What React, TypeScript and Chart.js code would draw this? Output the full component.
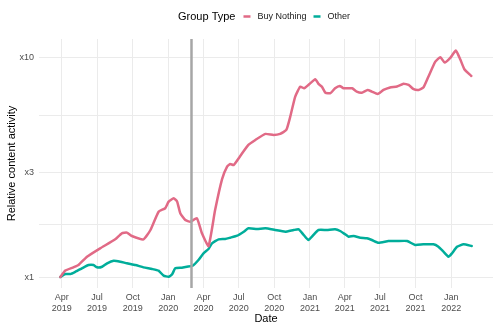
import React, { useEffect, useRef } from "react";
import { Chart, registerables } from "chart.js";

Chart.register(...registerables);

const legendTitle = "Group Type";
const seriesNames = ["Buy Nothing", "Other"];
const seriesColors = ["#E16A86", "#00AD9A"];

const buyNothingDates = [
  "2019-03-28", "2019-04-10", "2019-05-01", "2019-05-14", "2019-06-05", "2019-07-09",
  "2019-08-17", "2019-09-03", "2019-09-16", "2019-09-29", "2019-10-29", "2019-11-16",
  "2019-12-07", "2019-12-24", "2020-01-02", "2020-01-15", "2020-01-24", "2020-02-01",
  "2020-02-14", "2020-02-27", "2020-03-15", "2020-03-28", "2020-04-14", "2020-05-01",
  "2020-05-19", "2020-06-01", "2020-06-09", "2020-06-18", "2020-07-05", "2020-07-26",
  "2020-08-13", "2020-09-08", "2020-09-29", "2020-10-16", "2020-11-01", "2020-11-11",
  "2020-11-24", "2020-12-07", "2020-12-17", "2020-12-28", "2021-01-15", "2021-01-23",
  "2021-02-01", "2021-02-10", "2021-02-23", "2021-03-07", "2021-03-19", "2021-03-29",
  "2021-04-20", "2021-05-02", "2021-05-15", "2021-05-30", "2021-06-10", "2021-06-25",
  "2021-07-10", "2021-07-27", "2021-08-14", "2021-08-31", "2021-09-13", "2021-09-26",
  "2021-10-09", "2021-10-21", "2021-11-03", "2021-11-21", "2021-12-04", "2021-12-15",
  "2021-12-29", "2022-01-13", "2022-01-24", "2022-02-04", "2022-02-22",
];
const buyNothingValues = [
  1.0, 1.07, 1.107, 1.134, 1.238, 1.352,
  1.486, 1.583, 1.594, 1.539, 1.486, 1.639,
  1.987, 2.06, 2.208, 2.288, 2.208, 1.954,
  1.82, 1.789, 1.854, 1.583, 1.385, 2.02,
  2.8, 3.19, 3.28, 3.246, 3.568, 4.007,
  4.224, 4.5, 4.45, 4.5, 4.69, 5.38,
  6.66, 7.39, 7.27, 7.53, 7.99, 7.61,
  7.39, 6.94, 6.9, 7.27, 7.45, 7.27,
  7.27, 7.02, 6.94, 7.14, 7.02, 6.85,
  7.14, 7.33, 7.41, 7.63, 7.53, 7.2,
  7.14, 7.32, 8.21, 9.62, 10.07, 9.52,
  9.97, 10.8, 9.89, 8.88, 8.27,
];

const otherDates = [
  "2019-03-28", "2019-04-10", "2019-04-23", "2019-05-06", "2019-05-23", "2019-06-09",
  "2019-06-22", "2019-07-01", "2019-07-14", "2019-07-27", "2019-08-13", "2019-08-30",
  "2019-09-16", "2019-10-08", "2019-10-29", "2019-11-20", "2019-12-07", "2019-12-20",
  "2020-01-02", "2020-01-11", "2020-01-19", "2020-02-05", "2020-02-18", "2020-03-04",
  "2020-03-19", "2020-04-01", "2020-04-14", "2020-04-23", "2020-05-10", "2020-05-27",
  "2020-06-09", "2020-06-27", "2020-07-14", "2020-07-26", "2020-08-17", "2020-09-08",
  "2020-10-03", "2020-10-29", "2020-11-20", "2020-12-03", "2020-12-16", "2020-12-28",
  "2021-01-10", "2021-01-23", "2021-02-14", "2021-03-07", "2021-03-20", "2021-04-02",
  "2021-04-11", "2021-04-24", "2021-05-11", "2021-05-28", "2021-06-10", "2021-06-27",
  "2021-07-23", "2021-08-14", "2021-09-09", "2021-09-30", "2021-10-21", "2021-11-16",
  "2021-11-29", "2021-12-12", "2021-12-25", "2022-01-03", "2022-01-16", "2022-02-02",
  "2022-02-23",
];
const otherValues = [
  1.0, 1.032, 1.032, 1.057, 1.096, 1.134,
  1.134, 1.107, 1.114, 1.155, 1.187, 1.175,
  1.155, 1.134, 1.107, 1.088, 1.069, 1.014,
  1.003, 1.029, 1.096, 1.103, 1.114, 1.126,
  1.196, 1.283, 1.342, 1.425, 1.486, 1.491,
  1.512, 1.544, 1.61, 1.669, 1.657, 1.669,
  1.639, 1.61, 1.639, 1.651, 1.555, 1.476,
  1.555, 1.639, 1.639, 1.651, 1.622, 1.567,
  1.528, 1.539, 1.512, 1.502, 1.476, 1.434,
  1.46, 1.46, 1.46, 1.4, 1.41, 1.41,
  1.375, 1.305, 1.238, 1.283, 1.375, 1.41,
  1.385,
];

const xTickDates = [
  "2019-04-01", "2019-07-01", "2019-10-01", "2020-01-01", "2020-04-01", "2020-07-01",
  "2020-10-01", "2021-01-01", "2021-04-01", "2021-07-01", "2021-10-01", "2022-01-01",
];
const xTickLabels = [
  ["Apr", "2019"], ["Jul", "2019"], ["Oct", "2019"], ["Jan", "2020"],
  ["Apr", "2020"], ["Jul", "2020"], ["Oct", "2020"], ["Jan", "2021"],
  ["Apr", "2021"], ["Jul", "2021"], ["Oct", "2021"], ["Jan", "2022"],
];
const yTickValues = [1, 3, 10];
const yTickLabels = ["x1", "x3", "x10"];
const yMinorValues = [Math.sqrt(3), Math.sqrt(30)];
const eventDate = "2020-03-01";
const xAxisTitle = "Date";
const yAxisTitle = "Relative content activity";

const xRangeDates = ["2019-02-01", "2022-04-19"];
const yRange = [0.891, 12.2];

const BASE = Date.UTC(2019, 0, 1);
const toDay = (s: string) => {
  const [y, m, d] = s.split("-").map(Number);
  return (Date.UTC(y, m - 1, d) - BASE) / 86400000;
};

const FONT = "'Liberation Sans', Arial, sans-serif";

export default function App() {
  const ref = useRef<HTMLCanvasElement | null>(null);
  useEffect(() => {
    document.body.style.margin = "0";
    const canvas = ref.current;
    if (!canvas) return;

    const legendPlugin = {
      id: "ggLegend",
      afterDraw(chart: any) {
        const ctx = chart.ctx;
        ctx.save();
        ctx.textBaseline = "middle";
        ctx.textAlign = "left";
        const y = 16.5;
        let x = 178;
        ctx.font = `11px ${FONT}`;
        ctx.fillStyle = "#000000";
        ctx.fillText(legendTitle, x, y);
        x += ctx.measureText(legendTitle).width + 8;
        ctx.font = `9px ${FONT}`;
        seriesNames.forEach((name, i) => {
          ctx.strokeStyle = seriesColors[i];
          ctx.lineWidth = 2.5;
          ctx.beginPath();
          ctx.moveTo(x, y);
          ctx.lineTo(x + 7, y);
          ctx.stroke();
          x += 14;
          ctx.fillStyle = "#1A1A1A";
          ctx.fillText(name, x, y);
          x += ctx.measureText(name).width + 7;
        });
        ctx.restore();
      },
    };

    const vlinePlugin = {
      id: "eventLine",
      afterDatasetsDraw(chart: any) {
        const { ctx, chartArea, scales } = chart;
        const px = scales.x.getPixelForValue(toDay(eventDate));
        ctx.save();
        ctx.strokeStyle = "#A6A6A6";
        ctx.lineWidth = 2.5;
        ctx.beginPath();
        ctx.moveTo(px, chartArea.top);
        ctx.lineTo(px, chartArea.bottom);
        ctx.stroke();
        ctx.restore();
      },
    };

    const chart = new Chart(canvas, {
      type: "line",
      data: {
        datasets: [
          {
            label: seriesNames[0],
            data: buyNothingDates.map((d, i) => ({ x: toDay(d), y: buyNothingValues[i] })),
            borderColor: seriesColors[0],
            borderWidth: 2.5,
            pointRadius: 0,
            tension: 0.15,
            borderJoinStyle: "round",
            borderCapStyle: "round",
          },
          {
            label: seriesNames[1],
            data: otherDates.map((d, i) => ({ x: toDay(d), y: otherValues[i] })),
            borderColor: seriesColors[1],
            borderWidth: 2.5,
            pointRadius: 0,
            tension: 0.15,
            borderJoinStyle: "round",
            borderCapStyle: "round",
          },
        ],
      },
      options: {
        animation: false,
        responsive: false,
        devicePixelRatio: 1,
        layout: { padding: { top: 39, right: 5, left: 0, bottom: 0 } },
        plugins: {
          legend: { display: false },
          tooltip: { enabled: false },
        },
        scales: {
          x: {
            type: "linear",
            min: toDay(xRangeDates[0]),
            max: toDay(xRangeDates[1]),
            afterBuildTicks: (s: any) => {
              s.ticks = xTickDates.map((d) => ({ value: toDay(d) }));
            },
            afterFit: (s: any) => {
              s.height = 44;
            },
            ticks: {
              autoSkip: false,
              maxRotation: 0,
              padding: 4,
              color: "#4D4D4D",
              font: { family: FONT, size: 9, lineHeight: 1.2 },
              callback: (_v: any, i: number) => xTickLabels[i],
            },
            grid: { color: "#EBEBEB", lineWidth: 1, drawTicks: false },
            border: { display: false },
            title: {
              display: true,
              text: xAxisTitle,
              color: "#000000",
              font: { family: FONT, size: 11, lineHeight: 1.2 },
              padding: { top: 0, bottom: 6 },
            },
          },
          y: {
            type: "logarithmic",
            min: yRange[0],
            max: yRange[1],
            afterBuildTicks: (s: any) => {
              const all = [...yTickValues, ...yMinorValues].sort((a, b) => a - b);
              s.ticks = all.map((v) => ({ value: v }));
            },
            afterFit: (s: any) => {
              s.width = 39;
            },
            ticks: {
              autoSkip: false,
              padding: 5,
              color: "#4D4D4D",
              font: { family: FONT, size: 9 },
              callback: (v: any) => {
                const idx = yTickValues.findIndex((t) => Math.abs(t - Number(v)) < 1e-6);
                return idx >= 0 ? yTickLabels[idx] : "";
              },
            },
            grid: { color: "#EBEBEB", lineWidth: 1, drawTicks: false },
            border: { display: false },
            title: {
              display: true,
              text: yAxisTitle,
              color: "#000000",
              font: { family: FONT, size: 11, lineHeight: 1.2 },
              padding: { top: 5, bottom: 0 },
            },
          },
        },
      },
      plugins: [vlinePlugin, legendPlugin],
    } as any);

    return () => chart.destroy();
  }, []);

  return (
    <div style={{ width: 498, height: 332, position: "relative", background: "#FFFFFF" }}>
      <canvas ref={ref} width={498} height={332} style={{ display: "block", width: 498, height: 332 }} />
    </div>
  );
}
